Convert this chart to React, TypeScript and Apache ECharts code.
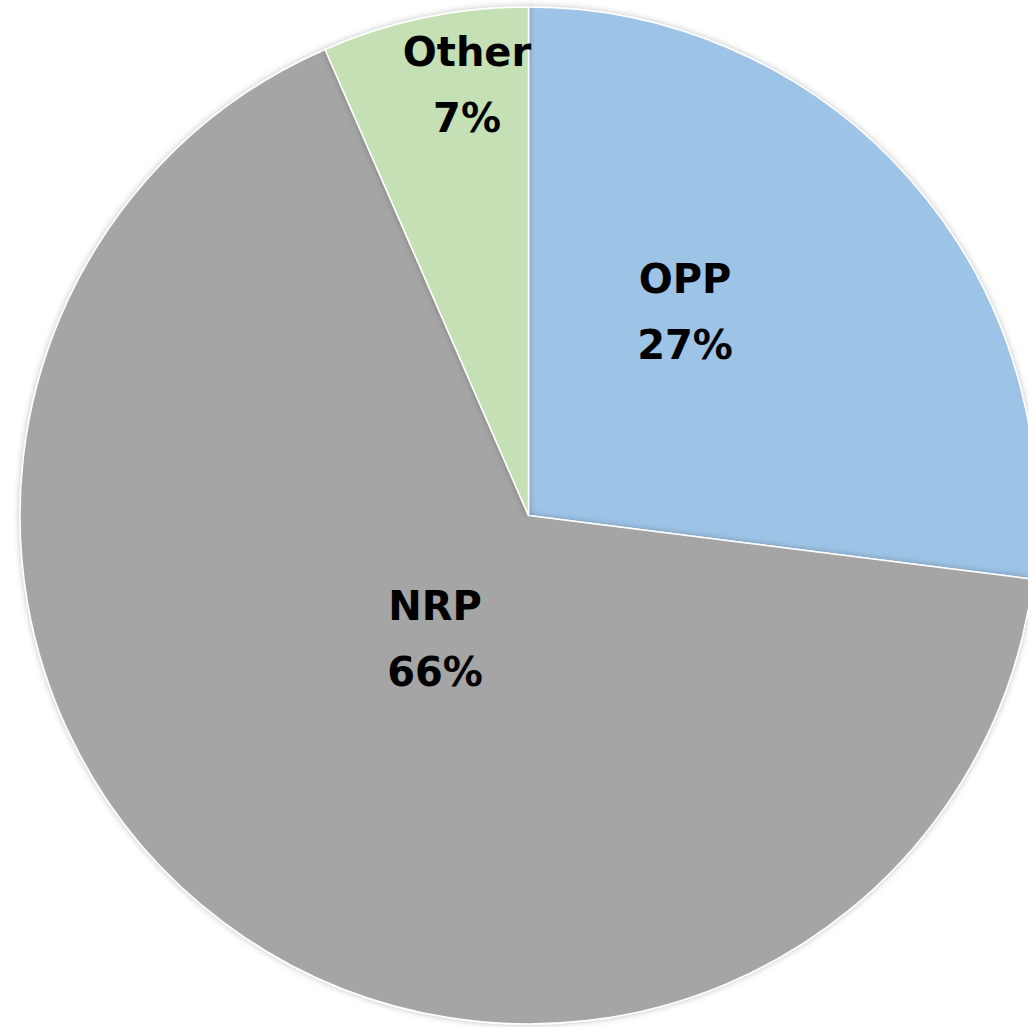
import React, { useEffect, useRef } from "react";
import * as echarts from "echarts";

const categories = ["OPP", "NRP", "Other"];
const shares = [27.0, 66.45, 6.55];
const colors = ["#9DC3E6", "#A5A5A5", "#C5E0B4"];
// label centres (px) per slice, as placed in the reference
const labelCenters: [number, number][] = [
  [685, 312],
  [435, 639],
  [467, 85],
];

export default function App() {
  const ref = useRef<HTMLDivElement>(null);
  useEffect(() => {
    if (!ref.current) return;
    const chart = echarts.init(ref.current, undefined, { renderer: "svg" });
    chart.setOption({
      animation: false,
      backgroundColor: "#FFFFFF",
      series: [
        {
          type: "pie",
          center: [528.5, 515.5],
          radius: [0, 508.5],
          startAngle: 90,
          clockwise: true,
          avoidLabelOverlap: false,
          data: categories.map((name, i) => ({
            name,
            value: shares[i],
            itemStyle: { color: colors[i] },
          })),
          itemStyle: {
            borderColor: "#FFFFFF",
            borderWidth: 1.5,
            shadowBlur: 6,
            shadowColor: "rgba(0,0,0,0.25)",
          },
          label: {
            show: true,
            position: "inside",
            formatter: (p: any) => `${p.name}\n${Math.round(p.percent)}%`,
            fontFamily: "DejaVu Sans",
            fontWeight: "bold",
            fontSize: 40,
            lineHeight: 66,
            color: "#000000",
            align: "center",
            verticalAlign: "middle",
          },
          labelLine: { show: false },
          labelLayout: (params: any) => {
            const c = labelCenters[params.dataIndex];
            return { x: c[0], y: c[1], align: "center", verticalAlign: "middle" };
          },
          emphasis: { disabled: true },
        },
      ],
    });
    return () => chart.dispose();
  }, []);
  return (
    <div
      ref={ref}
      style={{ position: "fixed", left: 0, top: 0, width: 1028, height: 1027 }}
    />
  );
}
